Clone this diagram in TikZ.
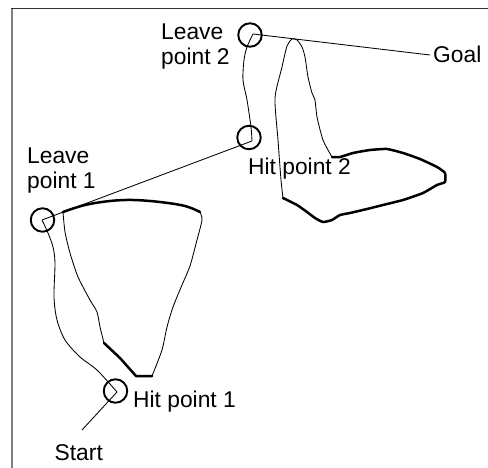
\documentclass[tikz,border=0pt]{standalone}
\usepackage{fontspec}
\setmainfont{Liberation Sans}
\begin{document}
\begin{tikzpicture}[x=1pt,y=-1pt,
  ring/.style={draw,circle,line width=1.9pt,minimum size=23.5pt,inner sep=0pt},
  route/.style={line width=0.85pt,line join=round},
  wallthin/.style={line width=0.85pt,line join=round},
  wallthick/.style={line width=2.5pt,line join=round,line cap=round},
  lbl/.style={inner sep=0pt,font=\fontsize{22.8}{25}\selectfont,align=left}]
\useasboundingbox (0,0) rectangle (488,468);
% frame
\draw[gray,line width=1.6pt] (11.8,8) -- (11.8,468);
\draw[black!80,line width=1.1pt] (11,8.4) -- (488,8.4);

% obstacle 1
\draw[wallthick] plot[smooth,tension=0.6] coordinates {(63,212) (85,205) (110,201) (133,200) (160,202) (185,206) (200,212)};
\draw[wallthin] plot[smooth,tension=0.4] coordinates {(200,212) (202,220) (197,240) (190,266) (182,285) (173,307) (167,327) (162,350) (152,376)};
\draw[wallthick] (152,376) -- (136,376) -- (120,358) -- (104,343);
\draw[wallthin] plot[smooth,tension=0.4] coordinates {(104,343) (100,327) (97,312) (90,300) (78,277) (70,253) (65,232) (63,212)};

% obstacle 2
\draw[wallthin] plot[smooth,tension=0.4] coordinates {(332,157) (323,140) (317,117) (315,100) (312,93) (308,77) (305,57) (302,47) (297,40) (292,39) (287,46) (282,67) (275,98) (278,140) (281,180) (283,198)};
\draw[wallthick] plot[smooth,tension=0.3] coordinates {(283,198) (297,205) (307,212) (315,218) (323,222) (332,220) (340,215) (350,213) (367,209) (383,205) (403,200) (423,193) (437,185) (445,182) (445,173) (437,167) (420,159) (403,153) (387,149) (370,150) (353,153) (340,157) (332,157)};

% path vertices
\coordinate (start) at (82,430);
\coordinate (v1) at (117,392);
\coordinate (v2) at (42,220);
\coordinate (v3) at (252,141);
\coordinate (v4) at (253,34);
\coordinate (goal) at (430,55);

% circles
\node[ring] (c1) at (115.5,391) {};
\node[ring] (c2) at (42.5,220) {};
\node[ring] (c3) at (249,137.5) {};
\node[ring] (c4) at (250,35) {};

% route
\draw[route] (start) -- (v1);
\draw[route] plot[smooth,tension=0.5] coordinates {(117,392) (97,370) (80,357) (65,340) (57,320) (54,297) (55,263) (53,247) (48,233) (42,220)};
\draw[route] (v2) -- (v3);
\draw[route] plot[smooth,tension=0.5] coordinates {(252,141) (251,127) (247,100) (243,80) (244,60) (247,47) (253,34)};
\draw[route] (v4) -- (goal);

% labels
\node[lbl,anchor=base west] (lstart) at (54.5,460) {Start};
\node[lbl,anchor=base west] (lhp1) at (133,407) {Hit point 1};
\node[lbl,anchor=base west] (lhp2) at (248,175) {Hit point 2};
\node[lbl,anchor=base west] (lgoal) at (433,63) {Goal};
\node[lbl,anchor=north west] (llp1) at (27,148) {Leave\\point 1};
\node[lbl,anchor=north west] (llp2) at (161,24) {Leave\\point 2};
\end{tikzpicture}
\end{document}
